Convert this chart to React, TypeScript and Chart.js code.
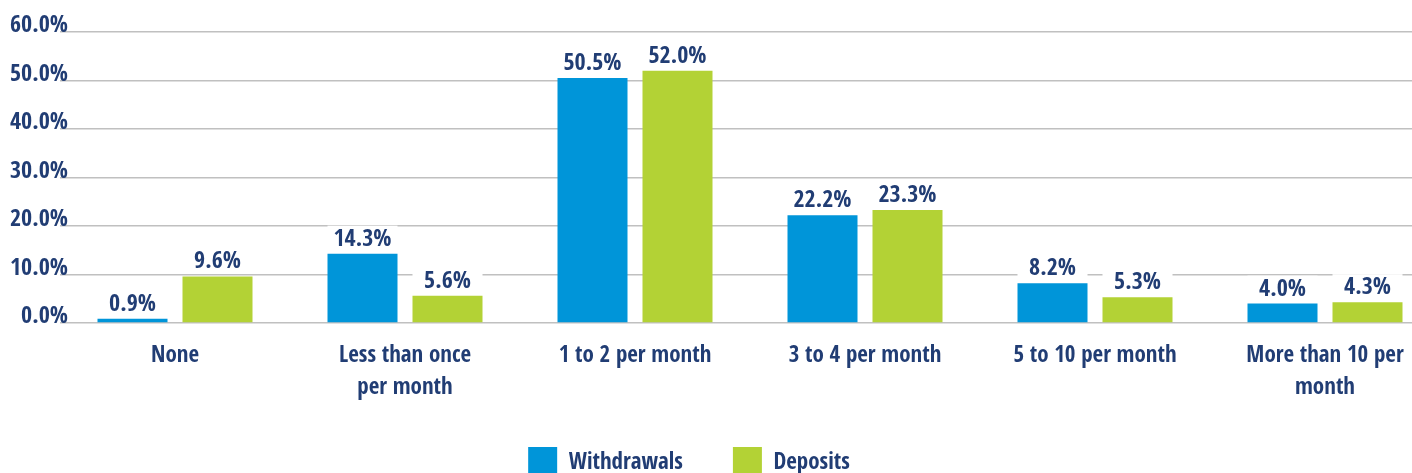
import React, { useEffect, useRef } from "react";
import { Chart, registerables } from "chart.js";

Chart.register(...registerables);

const categories: (string | string[])[] = [
  "None",
  ["Less than once", "per month"],
  "1 to 2 per month",
  "3 to 4 per month",
  "5 to 10 per month",
  ["More than 10 per", "month"],
];
const withdrawals = [0.9, 14.3, 50.5, 22.2, 8.2, 4.0];
const deposits = [9.6, 5.6, 52.0, 23.3, 5.3, 4.3];
const yTicks = [0, 10, 20, 30, 40, 50, 60];

const NAVY = "#213d74";
const BLUE = "#0095d9";
const GREEN = "#b3d235";
const GRID = "#c0c0c0";
const FONT = "'Open Sans Condensed', 'Roboto Condensed', sans-serif";

const VIEW_W = 1412;
const VIEW_H = 473;
const W = 1440;
const H = 489;
const AXIS_W = 60;
const CAT_W = (W - AXIS_W) / categories.length;

const valueLabels = {
  id: "valueLabels",
  afterDatasetsDraw(chart: any) {
    const ctx = chart.ctx;
    ctx.save();
    ctx.font = `bold 24px ${FONT}`;
    ctx.textAlign = "center";
    ctx.textBaseline = "alphabetic";
    chart.data.datasets.forEach((ds: any, di: number) => {
      const meta = chart.getDatasetMeta(di);
      meta.data.forEach((bar: any, i: number) => {
        const v = ds.data[i] as number;
        const txt = v.toFixed(1) + "%";
        const baseY = bar.y - 8;
        const bw = bar.width;
        ctx.fillStyle = "#ffffff";
        ctx.fillRect(bar.x - bw / 2, baseY - 20, bw, 22);
        ctx.fillStyle = NAVY;
        ctx.fillText(txt, bar.x, baseY);
      });
    });
    ctx.restore();
  },
};

// centre the legend on the visible part of the page rather than on the wider canvas
const legendShift = {
  id: "legendShift",
  afterLayout(chart: any) {
    if (chart.legend) chart.legend.right = chart.legend.left + 1378;
  },
};

export default function App() {
  const ref = useRef<HTMLCanvasElement | null>(null);

  useEffect(() => {
    if (!ref.current) return;
    const chart = new Chart(ref.current, {
      type: "bar",
      data: {
        labels: categories,
        datasets: [
          {
            label: "Withdrawals",
            data: withdrawals,
            backgroundColor: BLUE,
            borderWidth: 0,
            categoryPercentage: 170 / CAT_W,
            barPercentage: 70 / 85,
          },
          {
            label: "Deposits",
            data: deposits,
            backgroundColor: GREEN,
            borderWidth: 0,
            categoryPercentage: 170 / CAT_W,
            barPercentage: 70 / 85,
          },
        ],
      },
      options: {
        responsive: false,
        animation: false,
        devicePixelRatio: 1,
        layout: { padding: { top: 32, right: 0, left: 0, bottom: 0 } },
        plugins: {
          tooltip: { enabled: false },
          legend: {
            position: "bottom",
            labels: {
              boxWidth: 29,
              boxHeight: 32,
              padding: 50,
              color: NAVY,
              font: { family: FONT, size: 23, weight: "bold" },
            },
          },
        },
        scales: {
          x: {
            grid: { display: false },
            border: { display: false },
            ticks: {
              color: NAVY,
              mirror: true,
              padding: -49,
              maxRotation: 0,
              autoSkip: false,
              font: { family: FONT, size: 23, weight: "bold", lineHeight: 1.39 },
            },
            afterFit: (scale: any) => {
              scale.height = 74;
            },
          },
          y: {
            min: 0,
            max: 60,
            afterBuildTicks: (scale: any) => {
              scale.ticks = yTicks.map((v) => ({ value: v }));
            },
            afterFit: (scale: any) => {
              scale.width = AXIS_W;
            },
            grid: { color: GRID, lineWidth: 1.5, drawTicks: false },
            border: { display: false },
            ticks: {
              color: NAVY,
              mirror: true,
              crossAlign: "far",
              padding: -50,
              labelOffset: -6,
              font: { family: FONT, size: 24, weight: "bold" },
              callback: (v: any) => Number(v).toFixed(1) + "%",
            },
          },
        },
      },
      plugins: [valueLabels, legendShift],
    });
    return () => chart.destroy();
  }, []);

  return (
    <div
      style={{
        position: "fixed",
        left: 0,
        top: 0,
        width: VIEW_W,
        height: VIEW_H,
        overflow: "hidden",
        background: "#ffffff",
      }}
    >
      <canvas ref={ref} width={W} height={H} style={{ display: "block" }} />
    </div>
  );
}
